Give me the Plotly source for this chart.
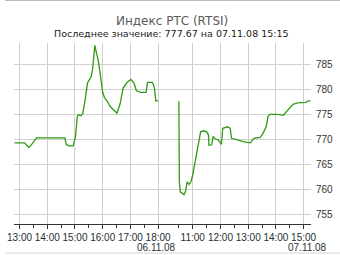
import plotly.graph_objects as go

DAY1 = "2008-11-06"
DAY2 = "2008-11-07"

day1_times = ["12:49", "13:11", "13:20", "13:23", "13:37", "14:38", "14:41", "14:46", "14:56", "14:59",
              "15:01", "15:05", "15:07", "15:13", "15:17", "15:22", "15:27", "15:31", "15:35", "15:38",
              "15:43", "15:46", "15:50", "15:53", "15:57", "16:00", "16:04", "16:10", "16:16", "16:26",
              "16:31", "16:38", "16:44", "16:52", "17:01", "17:08", "17:13", "17:23", "17:34", "17:37",
              "17:48", "17:52", "17:55", "18:00"]
day1_values = [769.3, 769.3, 768.4, 768.6, 770.3, 770.3, 769.0, 768.7, 768.7, 769.9,
               770.5, 774.5, 774.9, 774.7, 775.2, 777.9, 781.2, 781.9, 782.5, 783.9,
               788.8, 787.5, 786.0, 784.2, 781.9, 779.4, 778.3, 777.6, 776.6, 775.6,
               775.2, 777.2, 780.2, 781.3, 782.0, 781.2, 779.7, 779.4, 779.4, 781.4,
               781.4, 780.3, 777.7, 777.7]

day2_times = ["10:30", "10:31", "10:33", "10:36", "10:41", "10:44", "10:48", "10:52", "10:56", "11:00",
              "11:04", "11:08", "11:11", "11:14", "11:17", "11:23", "11:30", "11:34", "11:35", "11:41",
              "11:44", "11:48", "11:55", "11:58", "12:02", "12:05", "12:16", "12:21", "12:24", "12:37",
              "12:51", "13:05", "13:12", "13:26", "13:32", "13:39", "13:43", "13:47", "14:04", "14:16",
              "14:22", "14:29", "14:37", "14:47", "15:05", "15:09", "15:15"]
day2_values = [777.6, 761.5, 759.5, 759.2, 758.9, 759.5, 761.5, 761.0, 761.5, 762.9,
               764.9, 766.9, 768.9, 770.7, 771.5, 771.7, 771.5, 770.9, 768.8, 768.9,
               770.6, 770.1, 769.9, 769.5, 769.0, 772.2, 772.5, 772.2, 770.2, 769.9,
               769.5, 769.3, 770.2, 770.4, 771.2, 772.5, 774.6, 775.0, 775.0, 774.8,
               775.4, 776.3, 777.0, 777.3, 777.4, 777.7, 777.67]

day1_ticks = ["13:00", "14:00", "15:00", "16:00", "17:00", "18:00"]
day2_ticks = ["11:00", "12:00", "13:00", "14:00", "15:00"]
day1_minor = ["13:30", "14:30", "15:30", "16:30", "17:30"]
day2_minor = ["10:30", "11:30", "12:30", "13:30", "14:30"]
y_ticks = [755, 760, 765, 770, 775, 780, 785]
date_labels = ["06.11.08", "07.11.08"]

title_text = "Индекс РТС (RTSI)"
subtitle_text = "Последнее значение: 777.67 на 07.11.08 15:15"

x = [f"{DAY1} {t}" for t in day1_times] + [f"{DAY1} 18:01"] + [f"{DAY2} {t}" for t in day2_times]
y = day1_values + [None] + day2_values

tickvals = [f"{DAY1} {t}" for t in day1_ticks] + [f"{DAY2} {t}" for t in day2_ticks]
ticktext = day1_ticks + day2_ticks
minorvals = [f"{DAY1} {t}" for t in day1_minor] + [f"{DAY2} {t}" for t in day2_minor]

fig = go.Figure()
fig.add_trace(go.Scatter(x=x, y=y, mode="lines", line=dict(color="#2f9a12", width=1.3),
                         connectgaps=False, hoverinfo="skip"))

grid = "#cfcfcf"
fig.update_layout(
    width=340, height=255,
    margin=dict(l=7, r=29, t=43, b=31),
    paper_bgcolor="white", plot_bgcolor="white",
    showlegend=False,
    font=dict(family="Liberation Sans, Arial, sans-serif", size=10, color="#333"),
    xaxis=dict(
        type="date",
        range=[f"{DAY1} 12:48", f"{DAY2} 15:16"],
        rangebreaks=[dict(pattern="hour", bounds=[18.75, 10.5])],
        tickmode="array", tickvals=tickvals, ticktext=ticktext,
        showgrid=True, gridcolor=grid, gridwidth=1,
        ticks="outside", ticklen=4, tickcolor="#333", tickwidth=1,
        showline=True, linecolor="#333", linewidth=1,
        tickfont=dict(size=10, color="#1f2f33"),
        minor=dict(tickmode="array", tickvals=minorvals, ticks="outside", ticklen=3,
                   tickcolor="#333", showgrid=False),
        zeroline=False, fixedrange=True,
    ),
    yaxis=dict(
        range=[753.06, 789.26],
        side="right",
        tickmode="array", tickvals=y_ticks, ticktext=[str(v) for v in y_ticks],
        showgrid=True, gridcolor=grid, gridwidth=1,
        ticks="", showline=False, zeroline=False,
        ticklabelstandoff=4,
        tickfont=dict(size=10, color="#333"),
        fixedrange=True,
    ),
)

fig.add_annotation(text=title_text, xref="paper", yref="paper", x=0.531, y=1.123,
                   xanchor="center", yanchor="middle", showarrow=False,
                   font=dict(family="DejaVu Sans, Verdana, sans-serif", size=12, color="#5a5a5a"))
fig.add_annotation(text=subtitle_text, xref="paper", yref="paper", x=0.531, y=1.055,
                   xanchor="center", yanchor="middle", showarrow=False,
                   font=dict(family="DejaVu Sans, Verdana, sans-serif", size=9.5, color="#1a1a1a"))

for d, lbl, hh in [(DAY1, date_labels[0], "17:57"), (DAY2, date_labels[1], "15:08")]:
    fig.add_annotation(text=lbl, x=f"{d} {hh}", xref="x", yref="paper", y=0,
                       xanchor="center", yanchor="top", yshift=-16, showarrow=False,
                       font=dict(size=10, color="#1f2f33"))

fig.add_shape(type="line", xref="paper", yref="paper", x0=-0.03, x1=1.1,
              y0=1 + 42.5 / 181, y1=1 + 42.5 / 181, line=dict(color="#bbbbbb", width=1))
fig.add_shape(type="line", xref="paper", yref="paper", x0=-0.03, x1=1.1,
              y0=-29 / 181, y1=-29 / 181, line=dict(color="#d5d5d5", width=1))

fig.write_html("out.html")
